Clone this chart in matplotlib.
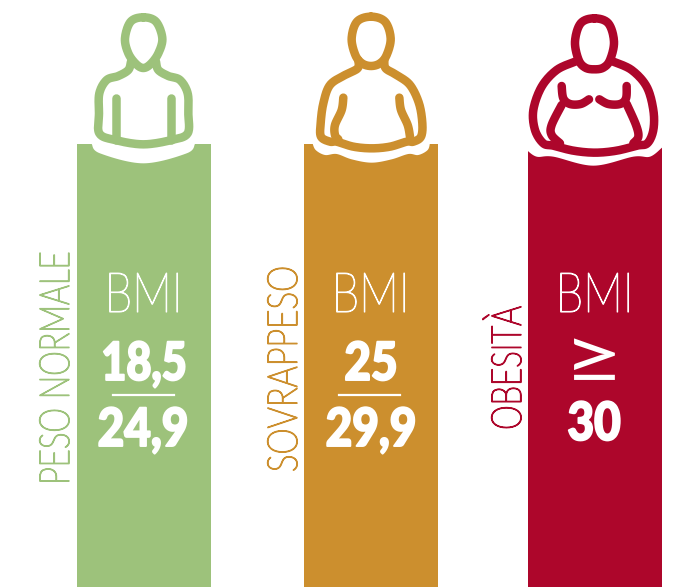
import matplotlib
matplotlib.use('Agg')
import matplotlib.pyplot as plt
from matplotlib.patheffects import AbstractPathEffect
from matplotlib.transforms import Affine2D
import numpy as np

# chart content
categories = ['PESO NORMALE', 'SOVRAPPESO', 'OBESITÀ']
colors = ['#9DC27B', '#CC8F2E', '#AD062B']
upper_texts = ['18,5', '25', '≥']
lower_texts = ['24,9', '29,9', '30']
bmi_label = 'BMI'

# layout, in reference pixels
WIDTH, HEIGHT = 678, 587
bar_lefts = [77, 304, 528]
BAR_WIDTH = 134
BAR_TOP = 144

# icon outlines in crop coordinates (3x zoom of the reference)
icon_offsets = [60, 295, 510]
heads = [
    [(250, 52), (288, 65), (307, 115), (295, 160), (272, 192), (250, 204), (228, 192), (205, 160), (195, 115), (212, 65)],
    [(228, 50), (270, 65), (287, 115), (275, 165), (255, 190), (228, 198), (201, 190), (181, 165), (170, 115), (186, 65)],
    [(253, 55), (295, 70), (312, 125), (300, 180), (280, 203), (253, 208), (226, 203), (206, 180), (195, 125), (212, 70)],
]
bodies = [
    [(213, 185), (205, 210), (175, 228), (140, 240), (118, 280), (117, 340), (118, 400), (165, 420),
     (250, 433), (335, 420), (383, 400), (385, 340), (383, 280), (360, 240), (325, 228), (295, 210), (288, 185)],
    [(190, 180), (188, 205), (150, 225), (105, 255), (85, 310), (77, 370), (78, 410), (105, 425), (125, 425),
     (175, 440), (230, 445), (285, 440), (335, 425), (355, 425), (378, 410), (382, 370), (372, 310), (345, 255),
     (305, 225), (272, 205), (268, 180)],
    [(195, 185), (140, 210), (95, 260), (70, 330), (75, 390), (100, 430), (130, 437), (190, 452), (255, 458),
     (320, 452), (380, 437), (412, 430), (430, 390), (430, 330), (410, 260), (365, 210), (310, 185)],
]
inner_lines = [
    [[(168, 295), (168, 420)], [(333, 295), (333, 420)]],
    [[(145, 293), (140, 330), (120, 375), (120, 405), (130, 418)],
     [(313, 293), (318, 330), (338, 375), (345, 410)]],
    [[(155, 258), (160, 295), (180, 312), (212, 312), (237, 298)],
     [(268, 298), (295, 312), (330, 312), (348, 295), (350, 258)],
     [(155, 315), (125, 375), (125, 405), (150, 430)],
     [(350, 312), (378, 375), (385, 410), (370, 430)]],
]
cutouts = [
    [(95, 432), (120, 460), (250, 490), (380, 460), (405, 432)],
    [(52, 428), (62, 450), (90, 465), (125, 462), (170, 478), (230, 488), (290, 478), (340, 462), (370, 465),
     (398, 450), (405, 428)],
    [(50, 450), (80, 470), (130, 470), (250, 497), (370, 470), (420, 470), (456, 443)],
]


class Squeeze(AbstractPathEffect):
    """Condense text along one display axis and thicken it, no condensed font is installed."""

    def __init__(self, anchor, factor, vertical=False, stroke=0.0):
        super().__init__()
        self.anchor = anchor
        self.factor = factor
        self.vertical = vertical
        self.stroke = stroke

    def draw_path(self, renderer, gc, tpath, affine, rgbFace=None):
        sx, sy = (1, self.factor) if self.vertical else (self.factor, 1)
        squeeze = Affine2D().translate(-self.anchor[0], -self.anchor[1]).scale(sx, sy).translate(*self.anchor)
        gc0 = renderer.new_gc()
        gc0.copy_properties(gc)
        gc0.set_foreground(rgbFace)
        gc0.set_linewidth(self.stroke)
        renderer.draw_path(gc0, tpath, affine + squeeze, rgbFace)
        gc0.restore()


def smooth(points, closed=False, steps=16):
    """Catmull-Rom curve through the points."""
    pts = np.array(points, dtype=float)
    if closed:
        pts = np.vstack([pts[-1], pts, pts[0], pts[1]])
    else:
        pts = np.vstack([pts[0], pts, pts[-1]])
    out = []
    for i in range(1, len(pts) - 2):
        p0, p1, p2, p3 = pts[i - 1], pts[i], pts[i + 1], pts[i + 2]
        for t in np.linspace(0, 1, steps, endpoint=False):
            out.append(0.5 * (2 * p1 + (p2 - p0) * t + (2 * p0 - 5 * p1 + 4 * p2 - p3) * t ** 2
                              + (3 * p1 - p0 - 3 * p2 + p3) * t ** 3))
    out.append(pts[-2])
    return np.array(out)


def to_pixels(curve, offset):
    return curve[:, 0] / 3 + offset, curve[:, 1] / 3


def draw_icon(ax, idx):
    color = colors[idx]
    offset = icon_offsets[idx]
    lw = 8.5 * 0.72

    # white curve carved out of the top of the bar
    x, y = to_pixels(smooth(cutouts[idx]), offset)
    ax.fill(np.r_[x, x[-1], x[0]], np.r_[y, BAR_TOP - 4, BAR_TOP - 4], color='white', lw=0, zorder=2)

    shapes = [smooth(heads[idx], closed=True), smooth(bodies[idx])]
    shapes += [smooth(line) for line in inner_lines[idx]]
    for curve in shapes:
        x, y = to_pixels(curve, offset)
        ax.plot(x, y, color=color, lw=lw, solid_capstyle='round', solid_joinstyle='round', zorder=3)


def draw_text(ax, x, y, text, size, weight, color, factor, rotation=0, stroke=0.0):
    """x, y is the baseline centre of the text, in reference pixels."""
    anchor = ax.transData.transform((x, y))
    t = ax.text(x, y, text, fontsize=size, fontweight=weight, color=color, family='Lato',
                ha='center', va='baseline', rotation=rotation, rotation_mode='anchor', zorder=4)
    t.set_path_effects([Squeeze(anchor, factor, vertical=rotation == 90, stroke=stroke)])


def main():
    fig = plt.figure(figsize=(WIDTH / 100, HEIGHT / 100), dpi=100)
    ax = fig.add_axes([0, 0, 1, 1])
    ax.set_xlim(0, WIDTH)
    ax.set_ylim(HEIGHT, 0)
    ax.axis('off')

    ax.bar(bar_lefts, HEIGHT - BAR_TOP, width=BAR_WIDTH, bottom=BAR_TOP, align='edge', color=colors, lw=0, zorder=1)

    for idx in range(len(categories)):
        draw_icon(ax, idx)

    # BMI heading in each bar
    for left in bar_lefts:
        draw_text(ax, left + 66.5, 312, bmi_label, 40, 'light', 'white', 0.8, stroke=0.8)

    # category names beside the bars
    draw_text(ax, 69, 368, categories[0], 30, 'light', colors[0], 0.75, rotation=90, stroke=1.0)
    draw_text(ax, 297, 369, categories[1], 30, 'light', colors[1], 0.8, rotation=90, stroke=1.0)
    draw_text(ax, 521, 368, categories[2], 30, 'light', colors[2], 0.75, rotation=90, stroke=1.0)

    # BMI ranges
    draw_text(ax, 144, 380, upper_texts[0], 38, 'black', 'white', 0.82, stroke=1.4)
    ax.plot([113, 174], [395, 395], color='white', lw=1.6, zorder=4)
    draw_text(ax, 143, 446, lower_texts[0], 38, 'black', 'white', 0.87, stroke=1.4)

    draw_text(ax, 371, 380, upper_texts[1], 38, 'black', 'white', 0.87, stroke=1.4)
    ax.plot([339, 400], [395, 395], color='white', lw=1.6, zorder=4)
    draw_text(ax, 371, 446, lower_texts[1], 38, 'black', 'white', 0.87, stroke=1.4)

    draw_text(ax, 594, 383, upper_texts[2], 55, 'regular', 'white', 1.38)
    draw_text(ax, 594, 440, lower_texts[2], 38, 'black', 'white', 0.87, stroke=1.4)

    fig.savefig('out.png', dpi=100, facecolor='white')
    plt.close(fig)


if __name__ == "__main__":
    main()
